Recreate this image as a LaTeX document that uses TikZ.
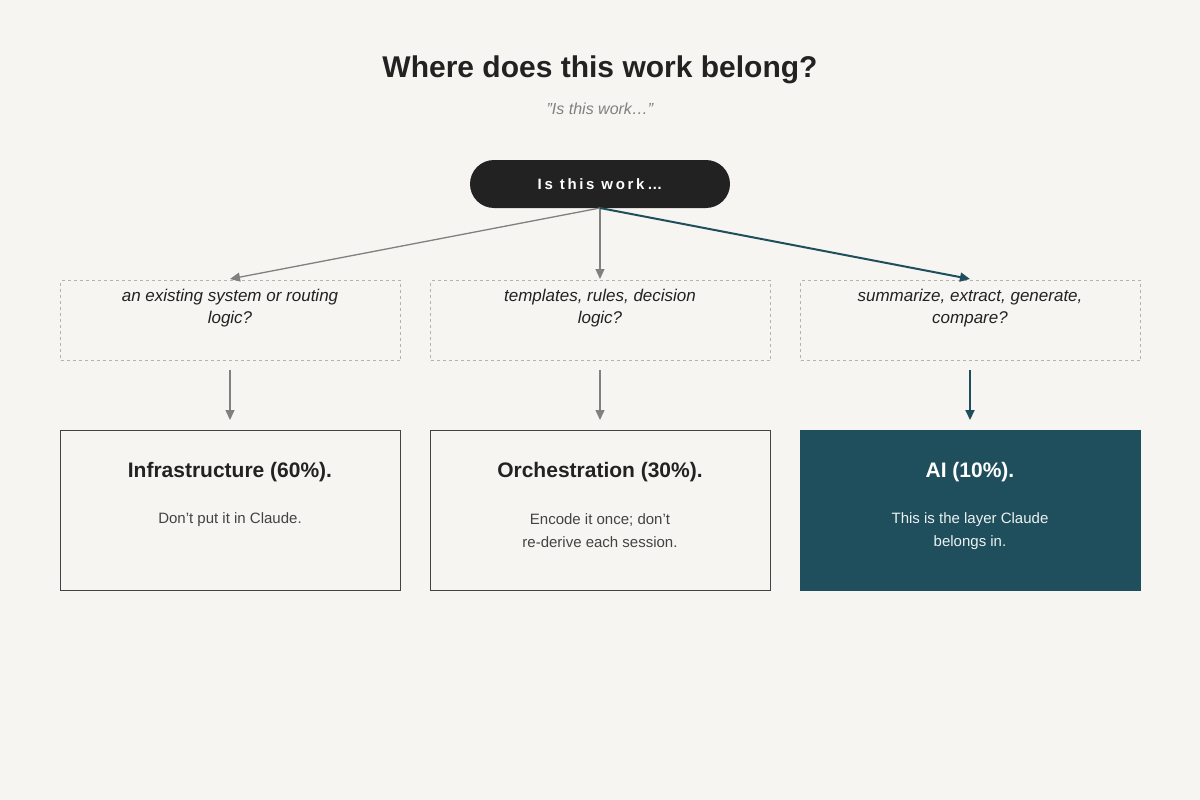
\documentclass[tikz,border=0pt]{standalone}
\usepackage{fontspec}
\setmainfont{Liberation Sans}
\newfontfamily\spaced[LetterSpace=18]{Liberation Sans}
\usetikzlibrary{arrows.meta}
\definecolor{bg}{HTML}{F6F5F1}
\definecolor{teal}{HTML}{1F4E5C}
\definecolor{ink}{HTML}{222222}
\definecolor{gr}{HTML}{808080}
\begin{document}
\begin{tikzpicture}[x=1pt,y=-1pt,
  q/.style={draw=gr!60,dashed,line width=1.2pt,minimum width=340pt,minimum height=80pt,anchor=north west,align=center,text width=300pt,font=\fontsize{17}{22}\selectfont\itshape,text=ink,inner sep=0pt},
  res/.style={draw=ink!85,line width=1.2pt,minimum width=340pt,minimum height=160pt,anchor=north west,inner sep=0pt},
  arr/.style={-{Triangle[length=10pt,width=9pt]},draw=gr,line width=1.3pt},
  tarr/.style={-{Triangle[length=10pt,width=9pt]},draw=teal,line width=2pt},
  sh/.style={font=\fontsize{21}{26}\selectfont\bfseries,text=ink},
  bd/.style={font=\fontsize{15}{23}\selectfont,text=ink!85,align=center}]
\fill[bg] (0,0) rectangle (1200,800);
\useasboundingbox (0,0) rectangle (1200,800);
\node[font=\fontsize{30}{36}\selectfont\bfseries,text=ink] (title) at (600,70) {Where does this work belong?};
\node[font=\fontsize{16}{20}\selectfont\itshape,text=gr] (sub) at (600,109) {"Is this work…"};
\node[fill=ink,rounded corners=24pt,minimum width=260pt,minimum height=48pt,text=white,font=\spaced\fontsize{15}{18}\selectfont\bfseries] (pill) at (600,184) {Is this work…};
\coordinate (p) at (600,208);
\node[q] (q1) at (60,280) {};
\node[q] (q2) at (430,280) {};
\node[q] (q3) at (800,280) {};
\node[font=\fontsize{17}{22}\selectfont\itshape,text=ink,align=center] (t1) at (230,308) {an existing system or routing\\logic?};
\node[font=\fontsize{17}{22}\selectfont\itshape,text=ink,align=center] (t2) at (600,308) {templates, rules, decision\\logic?};
\node[font=\fontsize{17}{22}\selectfont\itshape,text=ink,align=center] (t3) at (970,308) {summarize, extract, generate,\\compare?};
\coordinate (a1) at (230,279); \coordinate (a2) at (600,279); \coordinate (a3) at (970,279);
\draw[arr] (p) -- (a1);
\draw[arr] (p) -- (a2);
\draw[tarr] (p) -- (a3);
\coordinate (b1) at (230,370); \coordinate (c1) at (230,420);
\coordinate (b2) at (600,370); \coordinate (c2) at (600,420);
\coordinate (b3) at (970,370); \coordinate (c3) at (970,420);
\draw[arr] (b1) -- (c1);
\draw[arr] (b2) -- (c2);
\draw[tarr] (b3) -- (c3);
\node[res] (r1) at (60,430) {};
\node[res] (r2) at (430,430) {};
\node[res,fill=teal,draw=teal] (r3) at (800,430) {};
\node[sh] (h1) at (230,472) {Infrastructure (60\%).};
\node[sh] (h2) at (600,472) {Orchestration (30\%).};
\node[sh,text=white] (h3) at (970,472) {AI (10\%).};
\node[bd] (d1) at (230,520) {Don't put it in Claude.};
\node[bd] (d2) at (600,531) {Encode it once; don't\\re-derive each session.};
\node[bd,text=white!92!teal] (d3) at (970,531) {This is the layer Claude\\belongs in.};
\end{tikzpicture}
\end{document}
